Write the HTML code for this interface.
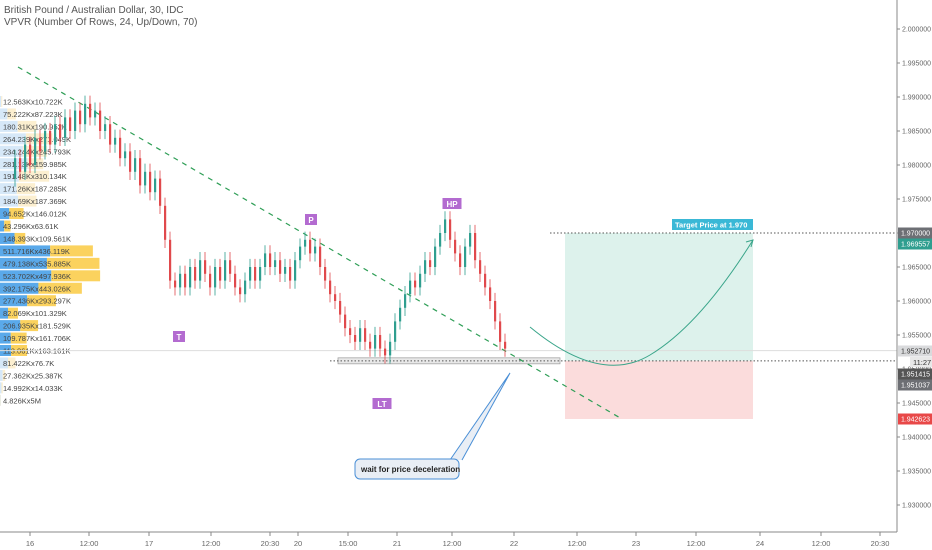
<!DOCTYPE html>
<html><head><meta charset="utf-8"><style>
body{margin:0;background:#fff;}
svg{display:block;font-family:"Liberation Sans",sans-serif;}
</style></head><body>
<svg id="c" width="932" height="550">
<text x="4" y="13" font-size="10" fill="#555">British Pound / Australian Dollar, 30, IDC</text>
<text x="4" y="25" font-size="10" fill="#555">VPVR (Number Of Rows, 24, Up/Down, 70)</text>
</svg>
<script>
const closes=[1.978,1.981,1.979,1.983,1.980,1.984,1.982,1.985,1.983,1.986,
1.984,1.987,1.985,1.988,1.986,1.989,1.987,1.988,1.985,1.986,
1.983,1.984,1.981,1.982,1.979,1.981,1.977,1.979,1.976,1.978,
1.974,1.969,1.963,1.962,1.964,1.962,1.965,1.963,1.966,1.964,
1.962,1.965,1.963,1.966,1.964,1.962,1.961,1.963,1.965,1.963,
1.965,1.967,1.965,1.966,1.964,1.965,1.963,1.966,1.968,1.969,
1.967,1.968,1.965,1.963,1.961,1.960,1.958,1.956,1.955,1.954,
1.956,1.954,1.953,1.955,1.953,1.952,1.954,1.957,1.959,1.961,
1.963,1.962,1.964,1.966,1.965,1.968,1.970,1.972,1.969,1.967,
1.965,1.968,1.970,1.966,1.964,1.962,1.960,1.957,1.954,1.953];
const vpUp=[12.563,75.222,180.31,264.239,234.244,281.13,191.48,171.26,184.69,94.652,43.296,148.393,511.716,479.138,523.702,392.175,277.436,82.069,206.935,109.787,113.061,81.422,27.362,14.992,4.826];
const vpDown=[10.722,87.223,190.952,271.049,245.793,159.985,310.134,187.285,187.369,146.012,63.61,109.561,436.119,535.885,497.936,443.026,293.297,101.329,181.529,161.706,163.161,76.7,25.387,14.033,5];
const vpLabels=["12.563Kx10.722K","75.222Kx87.223K","180.31Kx190.952K","264.239Kx271.049K","234.244Kx245.793K","281.13Kx159.985K","191.48Kx310.134K","171.26Kx187.285K","184.69Kx187.369K","94.652Kx146.012K","43.296Kx63.61K","148.393Kx109.561K","511.716Kx436.119K","479.138Kx535.885K","523.702Kx497.936K","392.175Kx443.026K","277.436Kx293.297K","82.069Kx101.329K","206.935Kx181.529K","109.787Kx161.706K","113.061Kx163.161K","81.422Kx76.7K","27.362Kx25.387K","14.992Kx14.033K","4.826Kx5M"];
const priceTicks=[2.000,1.995,1.990,1.985,1.980,1.975,1.970,1.965,1.960,1.955,1.950,1.945,1.940,1.935,1.930];
const timeLabels=["16","12:00","17","12:00","20:30","20","15:00","21","12:00","22","12:00","23","12:00","24","12:00","20:30"];
const timeX=[30,89,149,211,270,298,348,397,452,514,577,636,696,760,821,880];

const svg=document.getElementById('c');const NS='http://www.w3.org/2000/svg';
function y(p){return 233+(1.970-p)*6800;}
function xi(i){return 10+i*5;}
function vx(v){return v*0.098;}
function mk(tag,a,name,txt){const e=document.createElementNS(NS,tag);for(const k in a)e.setAttribute(k,a[k]);


if(txt!==undefined)e.textContent=txt;svg.appendChild(e);return e;}

// volume profile
vpUp.forEach((u,i)=>{const yy=101+i*12.45-5;const faded=(i<9||i>20);
mk('rect',{x:0,y:yy,width:vx(u),height:11,fill:faded?'#d6e8f8':'#5aa9ea'},'vp-up-bar');
mk('rect',{x:vx(u),y:yy,width:vx(vpDown[i]),height:11,fill:faded?'#fcefd0':'#fbd25e'},'vp-down-bar');
mk('text',{x:3,y:yy+8.5,'font-size':7.5,fill:'#444'},'vp-label',vpLabels[i]);});

// position boxes
mk('rect',{x:565,y:233,width:188,height:y(1.9512)-233,fill:'#ddf2ec'},'target-zone');
mk('rect',{x:565,y:y(1.9512),width:188,height:419-y(1.9512),fill:'#fbdcdc'},'stop-zone');
mk('line',{x1:550,y1:233,x2:897,y2:233,stroke:'#555','stroke-dasharray':'1.5,2'},'target-line');
mk('rect',{x:338,y:y(1.9512)-3,width:222,height:6,fill:'#e8e8e8',stroke:'#999','stroke-width':0.7},'support-zone');
mk('line',{x1:330,y1:y(1.9512),x2:897,y2:y(1.9512),stroke:'#555','stroke-dasharray':'1.5,2'},'support-line');
mk('line',{x1:0,y1:y(1.95271),x2:897,y2:y(1.95271),stroke:'#ddd'},'last-price-line');
mk('rect',{x:672,y:219,width:81,height:11,fill:'#3ab8d6'},'target-label-box');
mk('text',{x:675,y:227.5,'font-size':7.5,fill:'#fff','font-weight':'bold'},'target-label','Target Price at 1.970');

// trend line
mk('line',{x1:18,y1:67,x2:622,y2:419,stroke:'#2e9e56','stroke-width':1.2,'stroke-dasharray':'5,5'},'trend-line');

// candles
closes.forEach((c,i)=>{if(i===0)return;const o=closes[i-1];const up=c>=o;const col=up?'#2f9e8f':'#e0494c';
const hi=Math.max(o,c)+0.0012,lo=Math.min(o,c)-0.0012;const x=xi(i);
mk('line',{x1:x,y1:y(hi),x2:x,y2:y(lo),stroke:col,'stroke-width':0.8},'candle-wick');
mk('rect',{x:x-1,y:y(Math.max(o,c)),width:2.2,height:Math.max(1,Math.abs(y(o)-y(c))),fill:col},'candle-body');});

// curve projection
mk('path',{d:'M530,327 Q600,385 650,355 T753,240',fill:'none',stroke:'#3aa58a','stroke-width':1},'projection-curve');
mk('path',{d:'M746,242 L753,240 L751,247',fill:'none',stroke:'#3aa58a','stroke-width':1},'projection-arrow');

// markers
[['P',311,220],['HP',452,204],['T',179,337],['LT',382,404]].forEach(m=>{
const w=m[0].length*7+5;mk('rect',{x:m[1]-w/2,y:m[2]-6,width:w,height:11,fill:'#b36bd0'},'pattern-marker');
mk('text',{x:m[1],y:m[2]+3,'font-size':8,fill:'#fff','text-anchor':'middle','font-weight':'bold'},'pattern-marker-label',m[0]);});

// callout
mk('path',{d:'M450,460 L510,373 L462,460',fill:'#e9eef5',stroke:'#4a8fd6','stroke-width':1},'callout-pointer');
mk('rect',{x:355,y:459,width:104,height:20,rx:5,fill:'#e9eef5',stroke:'#4a8fd6','stroke-width':1},'callout-box');
mk('text',{x:361,y:472,'font-size':8,fill:'#222','font-weight':'bold'},'callout-text','wait for price deceleration');

// axes
mk('line',{x1:897,y1:0,x2:897,y2:532,stroke:'#888'},'price-axis-line');
mk('line',{x1:0,y1:532,x2:897,y2:532,stroke:'#888'},'time-axis-line');
priceTicks.forEach(p=>{mk('line',{x1:897,y1:y(p),x2:900,y2:y(p),stroke:'#888'},'price-tick');
mk('text',{x:902,y:y(p)+2.5,'font-size':7,fill:'#666','textLength':29},'price-tick-label',p.toFixed(6));});
timeLabels.forEach((t,i)=>{mk('line',{x1:timeX[i],y1:532,x2:timeX[i],y2:536,stroke:'#888'},'time-tick');
mk('text',{x:timeX[i],y:546,'font-size':7.5,fill:'#666','text-anchor':'middle'},'time-tick-label',t);});
const badges=[[1.970,'#6d6f74','1.970000',233],[1.969557,'#2f9e8f','1.969557',244],[1.95271,'#d9dadc','1.952710',351],[1.951415,'#555','1.951415',374],[1.951037,'#6d6f74','1.951037',385],[1.942623,'#e84848','1.942623',419]];
badges.forEach(l=>{
mk('rect',{x:898,y:l[3]-5.5,width:34,height:11,fill:l[1]},'price-badge');
mk('text',{x:901,y:l[3]+2.5,'font-size':7,fill:l[1]==='#d9dadc'?'#333':'#fff','textLength':29},'price-badge-label',l[2]);});
mk('rect',{x:910,y:357,width:22,height:10,fill:'#e8e8e8'},'countdown-badge');
mk('text',{x:913,y:365,'font-size':7.5,fill:'#333'},'countdown-label','11:27');
</script>
</body></html>
